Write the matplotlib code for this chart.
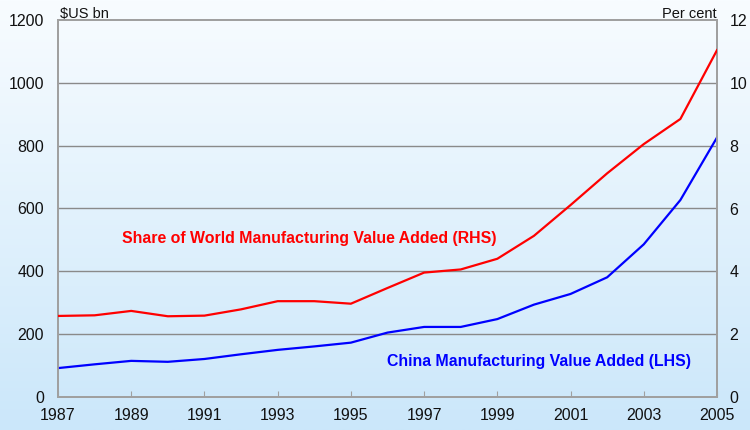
import matplotlib
matplotlib.use("Agg")
import matplotlib.pyplot as plt
import numpy as np
from matplotlib.colors import LinearSegmentedColormap

plt.rcParams['font.family'] = ['Liberation Sans', 'DejaVu Sans']

years = list(range(1987, 2006))
china_mva = [92, 104, 115, 112, 121, 136, 150, 161, 173, 205, 223, 223, 248, 294, 328, 381, 486, 627, 826]
world_share = [2.58, 2.60, 2.74, 2.57, 2.59, 2.79, 3.05, 3.05, 2.97, 3.47, 3.96, 4.06, 4.40, 5.13, 6.11, 7.12, 8.05, 8.85, 11.04]
left_ticks = [0, 200, 400, 600, 800, 1000, 1200]
right_ticks = [0, 2, 4, 6, 8, 10, 12]
x_ticks = list(range(1987, 2006, 2))

fig = plt.figure(figsize=(7.5, 4.3), dpi=100)

# gradient background
bg = fig.add_axes([0, 0, 1, 1], zorder=-10)
cmap = LinearSegmentedColormap.from_list('bg', ['#f8fcff', '#cbe7fa'])
grad = np.linspace(0, 1, 256).reshape(-1, 1)
bg.imshow(grad, aspect='auto', cmap=cmap, extent=[0, 1, 0, 1], origin='upper')
bg.set_axis_off()

ax = fig.add_axes([58/750, 33/430, (717-58)/750, (397-20)/430])
ax.set_facecolor('none')
ax2 = ax.twinx()

ax.plot(years, china_mva, color='#0000ff', lw=1.6, zorder=3)
ax2.plot(years, world_share, color='#ff0000', lw=1.6, zorder=3)

ax.set_xlim(1987, 2005)
ax.set_ylim(0, 1200)
ax2.set_ylim(0, 12)
ax.set_xticks(x_ticks)
ax.set_yticks(left_ticks)
ax2.set_yticks(right_ticks)
ax.set_yticklabels([str(v) for v in left_ticks])
ax2.set_yticklabels([str(v) for v in right_ticks])

for y in left_ticks[1:-1]:
    ax.axhline(y, color='#8a8a8a', lw=1.0, zorder=1)

for a in (ax, ax2):
    for s in a.spines.values():
        s.set_color('#a0a0a0')
        s.set_linewidth(1.3)

ax.tick_params(axis='x', direction='in', length=4, color='#a0a0a0', labelsize=11.5, pad=8, labelcolor='#111111')
ax.tick_params(axis='y', length=0, labelsize=11.5, pad=10, labelcolor='#111111')
ax2.tick_params(axis='y', length=0, labelsize=11.5, pad=9, labelcolor='#111111')

ax.text(0.003, 1.005, '$US bn', transform=ax.transAxes, ha='left', va='baseline', fontsize=10.5, color='#111111')
ax2.text(1.0, 1.005, 'Per cent', transform=ax.transAxes, ha='right', va='baseline', fontsize=10.5, color='#111111')

ax.text(1988.75, 505, 'Share of World Manufacturing Value Added (RHS)', color='#ff0000',
        fontsize=11.4, fontweight='bold', ha='left', va='center')
ax.text(1996.0, 114, 'China Manufacturing Value Added (LHS)', color='#0000ff',
        fontsize=11.4, fontweight='bold', ha='left', va='center')

fig.savefig('out.png', dpi=100)
